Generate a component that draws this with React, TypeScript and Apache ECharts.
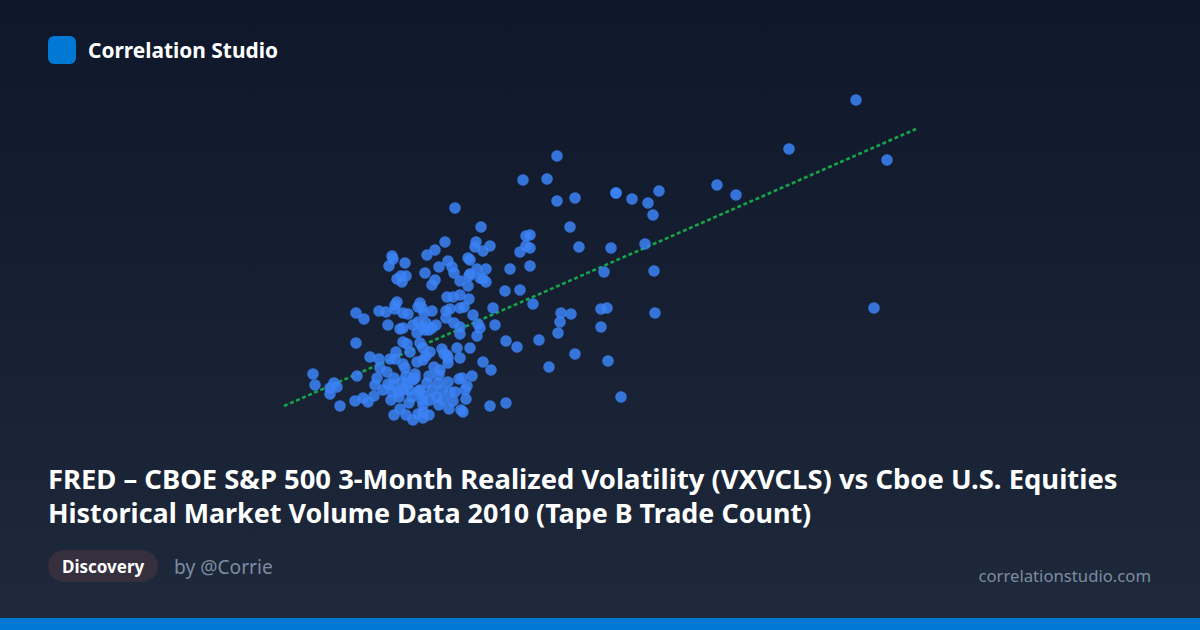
import { useEffect, useRef } from 'react';
import * as echarts from 'echarts';

// The reference hides its axes, so values are in plain plot units (x 0-640, y 0-340)
const outliers: [number, number][] = [
    [576, 330], [509, 281], [607, 270], [437, 245], [456, 235], [594, 122],
];

const upperRight: [number, number][] = [
    [277, 274], [243, 250], [267, 251], [277, 229], [295, 232], [336, 237], [336, 237], [352, 231],
    [368, 227], [379, 239], [373, 215], [290, 203], [299, 183], [331, 182], [365, 186], [324, 158],
    [374, 159],
];

const lowerRight: [number, number][] = [
    [225, 139], [240, 140], [253, 126], [281, 117], [291, 116], [280, 108], [278, 97], [321, 121],
    [327, 122], [321, 103], [375, 117], [226, 89], [237, 83], [259, 90], [295, 76], [269, 63],
    [328, 69], [341, 33], [226, 27], [210, 24], [211, 60], [203, 68],
];

const upperCluster: [number, number][] = [
    [175, 222], [201, 203], [165, 188], [155, 180], [147, 175], [112, 174], [113, 171], [125, 167],
    [109, 164], [196, 188], [195, 183], [203, 179], [210, 184], [188, 172], [190, 170], [168, 169],
    [159, 163], [172, 163], [174, 157], [145, 157], [197, 161], [206, 161], [190, 156], [189, 154],
    [200, 152], [203, 151], [206, 148], [117, 151], [121, 154], [126, 154], [122, 148], [155, 150],
    [152, 145], [180, 149], [188, 144], [230, 161], [250, 164], [246, 194], [250, 195], [246, 184],
    [250, 182], [240, 178],
];

const middleCluster: [number, number][] = [
    [167, 133], [173, 133], [180, 135], [189, 131], [213, 122], [193, 115], [180, 122], [184, 123],
    [170, 121], [166, 119], [166, 112], [174, 107], [180, 103], [180, 96], [198, 106], [200, 102],
    [197, 94], [215, 105], [117, 128], [115, 125], [115, 121], [99, 119], [106, 118], [76, 117],
    [84, 111], [123, 117], [128, 116], [140, 127], [138, 123], [142, 122], [144, 117], [152, 119],
    [108, 105], [120, 101], [123, 102], [133, 105], [138, 108], [146, 107], [156, 105], [143, 103],
    [152, 102], [137, 97], [145, 100], [149, 100],
];

const lowerCluster: [number, number][] = [
    [76, 87], [90, 73], [99, 71], [33, 56], [35, 45], [54, 47], [57, 43], [50, 42], [50, 36], [60, 24],
    [75, 29], [83, 32], [88, 28], [77, 54], [107, 58], [100, 62], [97, 52], [95, 45], [110, 71],
    [116, 78], [115, 71], [123, 66], [125, 62], [130, 78], [123, 88], [127, 86], [140, 87], [143, 82],
    [150, 78], [146, 74], [143, 70], [137, 68], [154, 63], [160, 60], [159, 55], [149, 54], [135, 56],
    [135, 52], [114, 52], [122, 48], [113, 45], [103, 40], [94, 34], [112, 38], [111, 30], [119, 33],
    [123, 40], [129, 40], [129, 27], [120, 21], [114, 15], [126, 15], [133, 10], [143, 12], [138, 16],
    [149, 15], [143, 18], [142, 30], [150, 30], [157, 33], [163, 30], [159, 25], [169, 21], [175, 38],
    [185, 40], [186, 31], [181, 20], [183, 18], [168, 48], [182, 52], [179, 51], [192, 54], [180, 72],
    [168, 72], [167, 75], [168, 67], [162, 81], [164, 76], [177, 82], [190, 82], [147, 47], [158, 47],
    [140, 40], [162, 40], [133, 50], [173, 29], [187, 44], [139, 39], [143, 35], [143, 25],
    [127, 46], [118, 38], [132, 33], [152, 40], [126, 54], [108, 46], [170, 38],
];

const trendLine: [number, number][] = [[4, 24], [636, 301]];

const titleLines = [
    'FRED – CBOE S&P 500 3-Month Realized Volatility (VXVCLS) vs Cboe U.S. Equities',
    'Historical Market Volume Data 2010 (Tape B Trade Count)',
];
const titleSizes = [27.4, 26.9];

const FONT = '"Noto Sans", sans-serif';

export default function App() {
    const chartRef = useRef<HTMLDivElement>(null);

    useEffect(() => {
        if (!chartRef.current) return;

        const chart = echarts.init(chartRef.current, undefined, { renderer: 'svg' });

        chart.setOption({
            animation: false,
            backgroundColor: new echarts.graphic.LinearGradient(0, 0, 0, 1, [
                { offset: 0, color: '#0f172a' },
                { offset: 1, color: '#1e293b' },
            ]),
            grid: { left: 280, top: 90, width: 640, height: 340 },
            xAxis: { type: 'value', min: 0, max: 640, show: false },
            yAxis: { type: 'value', min: 0, max: 340, show: false },
            series: [
                {
                    type: 'line',
                    data: trendLine,
                    symbol: 'none',
                    z: 1,
                    lineStyle: { color: '#16a34a', width: 2.6, type: [4, 2.6] },
                },
                {
                    type: 'scatter',
                    data: [...outliers, ...upperRight, ...lowerRight, ...upperCluster, ...middleCluster, ...lowerCluster],
                    symbol: 'circle',
                    symbolSize: 11.5,
                    z: 2,
                    itemStyle: { color: '#3b82f6', opacity: 0.85 },
                },
            ],
            graphic: [
                { type: 'rect', shape: { x: 48, y: 36, width: 28, height: 28, r: 6 }, style: { fill: '#0078d4' } },
                {
                    type: 'text',
                    x: 88,
                    y: 50,
                    style: { text: 'Correlation Studio', fill: '#ffffff', font: `700 20.9px ${FONT}`, textVerticalAlign: 'middle' },
                },
                ...titleLines.map((line, i) => ({
                    type: 'text',
                    x: 48,
                    y: 478.5 + i * 34,
                    style: { text: line, fill: '#ffffff', font: `700 ${titleSizes[i]}px ${FONT}`, textVerticalAlign: 'middle' },
                })),
                { type: 'rect', shape: { x: 48, y: 550, width: 110, height: 32, r: 16 }, style: { fill: '#352f3e' } },
                {
                    type: 'text',
                    x: 62,
                    y: 566,
                    style: { text: 'Discovery', fill: '#ffffff', font: `700 17px ${FONT}`, textVerticalAlign: 'middle' },
                },
                {
                    type: 'text',
                    x: 174,
                    y: 566,
                    style: { text: 'by @Corrie', fill: '#7c8ba3', font: `400 19.2px ${FONT}`, textVerticalAlign: 'middle' },
                },
                {
                    type: 'text',
                    x: 1151,
                    y: 575.5,
                    style: { text: 'correlationstudio.com', fill: '#7c8ba3', font: `400 16.7px ${FONT}`, textAlign: 'right', textVerticalAlign: 'middle' },
                },
                { type: 'rect', shape: { x: 0, y: 618, width: 1200, height: 12 }, style: { fill: '#0078d4' } },
            ],
        });

        return () => {
            chart.dispose();
        };
    }, []);

    return (
        <div
            ref={chartRef}
            style={{ position: 'fixed', left: 0, top: 0, width: 1200, height: 630 }}
        />
    );
}
